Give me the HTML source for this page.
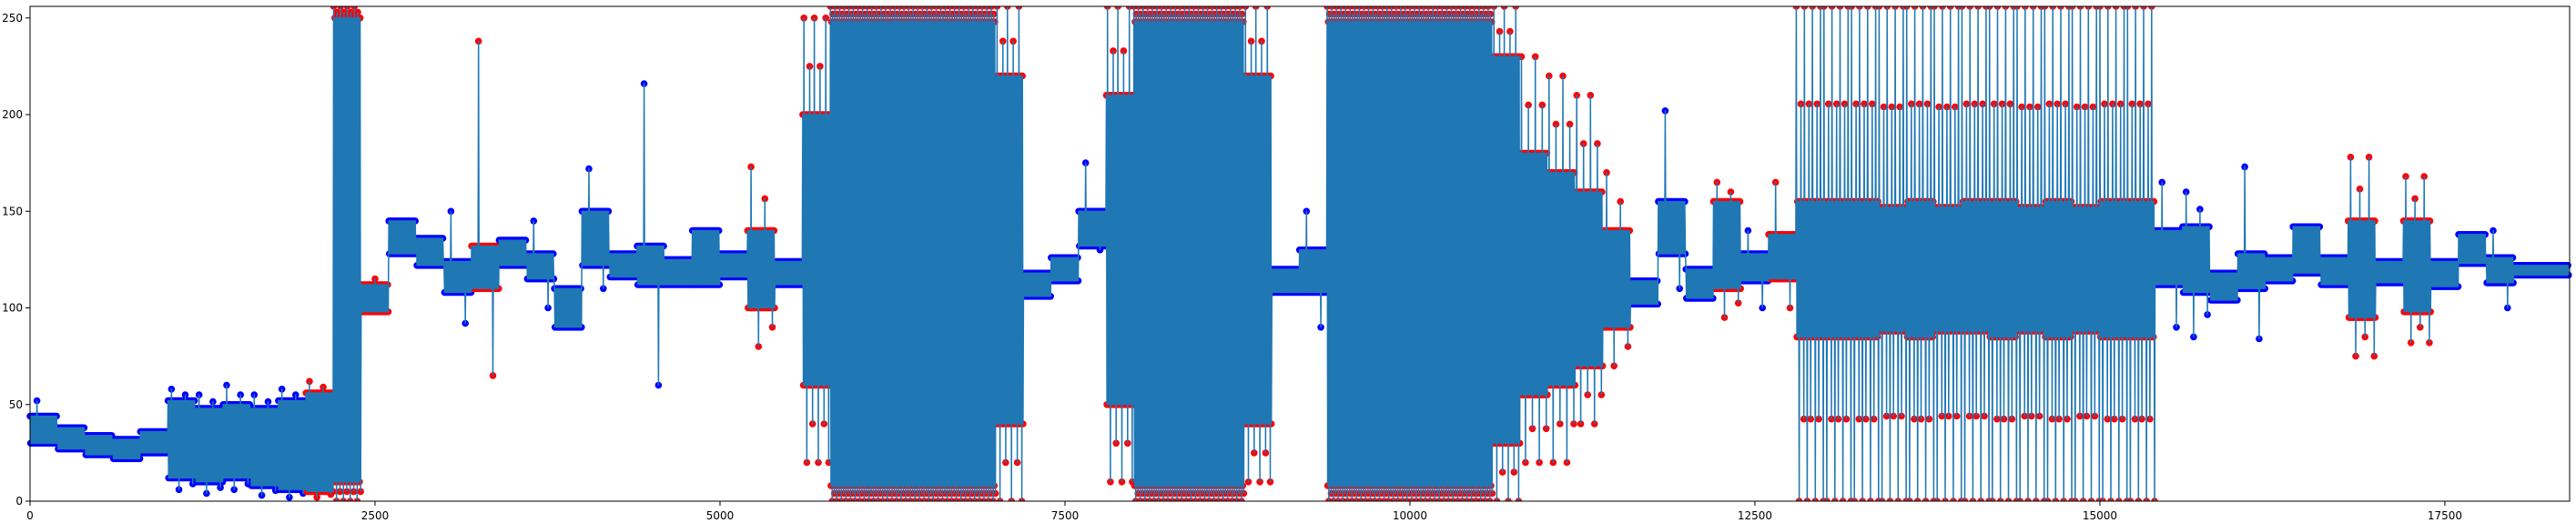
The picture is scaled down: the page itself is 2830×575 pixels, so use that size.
<!DOCTYPE html>
<html><head><meta charset="utf-8">
<style>
html,body{margin:0;padding:0;background:#fff;}
svg{display:block;font-family:"DejaVu Sans","Liberation Sans",sans-serif;}
</style></head>
<body>
<svg id="chart" width="2830" height="575" viewBox="0 0 2830 575" xmlns="http://www.w3.org/2000/svg">
<rect x="0" y="0" width="2830" height="575" fill="#fff"/>
<g id="marks"></g>
<g id="axes"></g>
</svg>
<script>
// ---- data (200-unit bins) ----
const binStart = [0,200,400,600,800,1000,1200,1400,1600,1800,2000,2200,2400,2600,2800,3000,3200,3400,3600,3800,4000,4200,4400,4600,4800,5000,5200,5400,5600,5800,6000,6200,6400,6600,6800,7000,7200,7400,7600,7800,8000,8200,8400,8600,8800,9000,9200,9400,9600,9800,10000,10200,10400,10600,10800,11000,11200,11400,11600,11800,12000,12200,12400,12600,12800,13000,13200,13400,13600,13800,14000,14200,14400,14600,14800,15000,15200,15400,15600,15800,16000,16200,16400,16600,16800,17000,17200,17400,17600,17800,18000,18200];
const coreLo = [30,27,24,22,25,12,10,12,8,6,5,10,98,128,122,108,110,122,115,90,122,116,112,112,112,116,100,112,60,8,8,8,8,8,8,40,106,114,132,50,8,8,8,8,40,108,108,8,8,8,8,8,8,30,55,60,70,90,102,128,105,110,114,115,85,85,85,88,85,88,88,85,88,85,88,85,85,112,108,104,110,114,118,112,95,113,98,111,123,113,117,117];
const coreHi = [44,38,34,32,36,52,48,50,48,52,56,250,112,145,136,124,132,135,128,110,150,128,132,125,140,128,140,124,200,248,248,248,248,248,248,220,118,126,150,210,248,248,248,248,220,120,130,248,248,248,248,248,248,230,180,170,160,140,114,155,120,155,128,138,155,155,155,152,155,152,155,155,152,155,152,155,155,140,142,118,128,126,142,126,145,124,145,124,138,126,122,122];
const spikeLo = [30,25,22,20,25,6,4,6,3,2,2,0,80,128,122,92,65,122,100,85,110,116,60,112,100,116,80,112,20,0,0,0,0,0,0,0,106,114,130,10,0,0,0,0,10,108,90,0,0,0,0,0,0,0,20,20,40,70,102,110,105,95,100,100,0,0,0,0,0,0,0,0,0,0,0,0,0,90,85,104,84,114,110,112,75,113,82,111,123,100,117,117];
const spikeHi = [52,40,35,32,38,58,55,60,55,58,62,256,115,148,140,150,238,140,145,110,172,128,216,125,148,128,173,124,250,256,256,256,256,256,256,256,118,126,175,256,256,256,256,256,256,120,150,256,256,256,256,256,256,256,230,220,210,170,114,202,120,165,140,165,256,256,256,256,256,256,256,256,256,256,256,256,256,165,160,118,173,126,150,126,178,124,168,124,138,140,122,122];
const spikeCount = [2,0,0,0,0,4,4,4,4,4,4,16,1,0,0,2,2,0,2,0,2,0,2,0,0,0,4,0,10,24,24,24,24,24,24,10,0,0,2,10,24,24,24,24,10,0,2,24,24,24,24,24,24,10,8,8,8,4,0,2,0,4,2,2,14,14,14,14,14,14,14,14,14,14,14,14,14,2,4,0,2,0,0,0,6,0,6,0,0,2,0,0];
const redBin = [0,0,0,0,0,0,0,0,0,0,1,1,1,0,0,0,1,0,0,0,0,0,0,0,0,0,1,0,1,1,1,1,1,1,1,1,0,0,0,1,1,1,1,1,1,0,0,1,1,1,1,1,1,1,1,1,1,1,0,0,0,1,0,1,1,1,1,1,1,1,1,1,1,1,1,1,1,0,0,0,0,0,0,0,1,0,1,0,0,0,0,0];
const xTicks = [0,2500,5000,7500,10000,12500,15000,17500];
const yTicks = [0,50,100,150,200,250];
const binWidth = 200;
const vertsPerBin = 48;

// ---- axes functions ----
const X0 = 33, X1 = 2823, Y0 = 551, Y1 = 7;
const xMax = 18404, yMax = 256;
const xs = v => X0 + v / xMax * (X1 - X0);
const ys = v => Y0 - v / yMax * (Y0 - Y1);

const NS = 'http://www.w3.org/2000/svg';
const marks = document.getElementById('marks');
const axes = document.getElementById('axes');

// build vertices
const pts = [];
for (let i = 0; i < binStart.length; i++) {
  const n = spikeCount[i];
  const spikeAt = {};
  for (let j = 0; j < n; j++) {
    let k = Math.floor((j + 0.5) * vertsPerBin / n);
    const up = j % 2 === 0;
    if (up && k % 2 === 1) k = Math.max(0, k - 1);
    if (!up && k % 2 === 0) k = Math.min(vertsPerBin - 1, k + 1);
    const full = (Math.floor(j / 2) % 2 === 0);
    const ext = up ? spikeHi[i] : spikeLo[i];
    const core = up ? coreHi[i] : coreLo[i];
    spikeAt[k] = full ? ext : (ext + core) / 2;
  }
  for (let k = 0; k < vertsPerBin; k++) {
    const xv = binStart[i] + k * binWidth / vertsPerBin;
    let v = (k % 2 === 0) ? coreHi[i] : coreLo[i];
    if (spikeAt[k] !== undefined) v = spikeAt[k];
    pts.push([xv, v, redBin[i]]);
  }
}

// markers
const mg = document.createElementNS(NS, 'g');


marks.appendChild(mg);
pts.forEach(p => {
  const c = document.createElementNS(NS, 'circle');
  
  
  c.setAttribute('cx', xs(p[0]).toFixed(1));
  c.setAttribute('cy', ys(p[1]).toFixed(1));
  c.setAttribute('r', 3.8);
  c.setAttribute('fill', p[2] ? '#ff0000' : '#0000ff');
  mg.appendChild(c);
});

// line
const line = document.createElementNS(NS, 'polyline');


line.setAttribute('points', pts.map(p => xs(p[0]).toFixed(1) + ',' + ys(p[1]).toFixed(1)).join(' '));
line.setAttribute('fill', 'none');
line.setAttribute('stroke', '#1f77b4');
line.setAttribute('stroke-width', '1.5');
line.setAttribute('stroke-linejoin', 'round');
marks.appendChild(line);

// white-out outside plot
const cl = document.createElementNS(NS, 'rect');
cl.setAttribute('x', 0); cl.setAttribute('y', 0); cl.setAttribute('width', 2830); cl.setAttribute('height', Y1);
cl.setAttribute('fill', '#fff');
axes.appendChild(cl);
const cb = document.createElementNS(NS, 'rect');
cb.setAttribute('x', 0); cb.setAttribute('y', Y0); cb.setAttribute('width', 2830); cb.setAttribute('height', 575 - Y0);
cb.setAttribute('fill', '#fff');
axes.appendChild(cb);

// frame
const frame = document.createElementNS(NS, 'rect');


frame.setAttribute('x', X0); frame.setAttribute('y', Y1);
frame.setAttribute('width', X1 - X0); frame.setAttribute('height', Y0 - Y1);
frame.setAttribute('fill', 'none'); frame.setAttribute('stroke', '#000'); frame.setAttribute('stroke-width', '1');
axes.appendChild(frame);

xTicks.forEach(t => {
  const x = xs(t);
  const tk = document.createElementNS(NS, 'line');
  
  
  tk.setAttribute('x1', x); tk.setAttribute('x2', x);
  tk.setAttribute('y1', Y0); tk.setAttribute('y2', Y0 + 5);
  tk.setAttribute('stroke', '#000');
  axes.appendChild(tk);
  const tx = document.createElementNS(NS, 'text');
  
  
  tx.setAttribute('x', x); tx.setAttribute('y', Y0 + 20);
  tx.setAttribute('text-anchor', 'middle');
  tx.setAttribute('font-size', '12');
  tx.textContent = t;
  axes.appendChild(tx);
});
yTicks.forEach(t => {
  const y = ys(t);
  const tk = document.createElementNS(NS, 'line');
  
  
  tk.setAttribute('x1', X0 - 5); tk.setAttribute('x2', X0);
  tk.setAttribute('y1', y); tk.setAttribute('y2', y);
  tk.setAttribute('stroke', '#000');
  axes.appendChild(tk);
  const tx = document.createElementNS(NS, 'text');
  
  
  tx.setAttribute('x', X0 - 8); tx.setAttribute('y', y + 4);
  tx.setAttribute('text-anchor', 'end');
  tx.setAttribute('font-size', '12');
  tx.textContent = t;
  axes.appendChild(tx);
});
</script>
</body></html>
